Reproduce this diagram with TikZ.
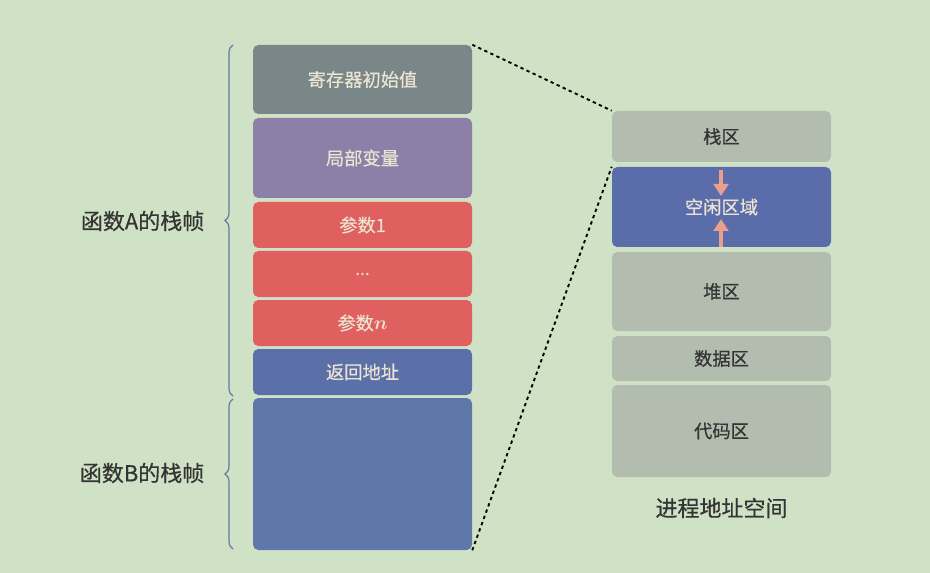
\documentclass[tikz,border=0pt]{standalone}
\usepackage{bm}
\usepackage{fontspec}
\setmainfont{Noto Sans CJK SC}[FakeBold=0.5,AutoFakeBold=0.5]
\usetikzlibrary{decorations.pathreplacing,arrows.meta}
\begin{document}
\begin{tikzpicture}[x=0.75pt,y=-0.75pt,
  slot/.style={rounded corners=4pt,inner sep=0pt,minimum width=164.25pt,text=cream,font=\fontsize{13.7}{16}\selectfont},
  area/.style={slot,fill=greyarea,text=ink},
  frame/.style={draw=bracecol,line width=0.9pt,decorate,decoration={brace,amplitude=6pt}},
  link/.style={dashed,line width=1.4pt,dash pattern=on 2.5pt off 2.5pt},
  squeeze/.style={draw=arrowcol,line width=3.2pt,-{Triangle[length=9pt,width=11pt]}},
  caption/.style={text=ink,font=\fontsize{16.5}{18}\selectfont}]
  \definecolor{paper}{HTML}{D0E2C6}
  \definecolor{cream}{HTML}{ECE4D2}
  \definecolor{ink}{HTML}{333433}
  \definecolor{regcol}{HTML}{7A8788}
  \definecolor{localcol}{HTML}{8C80A9}
  \definecolor{argcol}{HTML}{E0605F}
  \definecolor{retcol}{HTML}{5B6FA8}
  \definecolor{framecol}{HTML}{5F78AA}
  \definecolor{greyarea}{HTML}{B2BCAF}
  \definecolor{freecol}{HTML}{5A6DAA}
  \definecolor{arrowcol}{HTML}{E8A08C}
  \definecolor{bracecol}{HTML}{6677A2}
  \fill [paper] (0,0) rectangle (930,573);
  \useasboundingbox (0,0) rectangle (930,573);
  \node [slot,fill=regcol,minimum height=51.75pt] (reg) at (362.5,79.5) {寄存器初始值};
  \node [slot,fill=localcol,minimum height=60pt] (local) at (362.5,158) {局部变量};
  \node [slot,fill=argcol,minimum height=34.5pt] (argone) at (362.5,225) {参数1};
  \node [slot,fill=argcol,minimum height=34.5pt,font=\fontsize{13}{14}\selectfont] (argdots) at (362.5,274) {...};
  \node [slot,fill=argcol,minimum height=34.5pt] (argn) at (362.5,323) {参数$\bm{n}$};
  \node [slot,fill=retcol,minimum height=34.5pt] (ret) at (362.5,372) {返回地址};
  \node [slot,fill=framecol,minimum height=114pt] (frameB) at (362.5,474) {};
  \draw [frame] (233,396) -- (233,45);
  \draw [frame] (233,549) -- (233,399);
  \node [caption,anchor=east] (labelA) at (209,221) {函数A的栈帧};
  \node [caption,anchor=east] (labelB) at (209,473) {函数B的栈帧};
  \node [area,minimum height=38.25pt] (stack) at (721.5,136.5) {栈区};
  \node [slot,fill=freecol,minimum height=60pt] (free) at (721.5,207) {空闲区域};
  \node [area,minimum height=59.25pt] (heap) at (721.5,291.5) {堆区};
  \node [area,minimum height=33.75pt] (data) at (721.5,358.5) {数据区};
  \node [area,minimum height=69pt] (code) at (721.5,431) {代码区};
  \node [caption] (space) at (721.5,508) {进程地址空间};
  \coordinate (downtop) at (721,170);
  \coordinate (downtip) at (721,196);
  \coordinate (upbot) at (721,247);
  \coordinate (uptip) at (721,219);
  \draw [squeeze] (downtop) -- (downtip);
  \draw [squeeze] (upbot) -- (uptip);
  \draw [link] (reg.north east) -- (stack.north west);
  \draw [link] (frameB.south east) -- (free.north west);
\end{tikzpicture}
\end{document}
